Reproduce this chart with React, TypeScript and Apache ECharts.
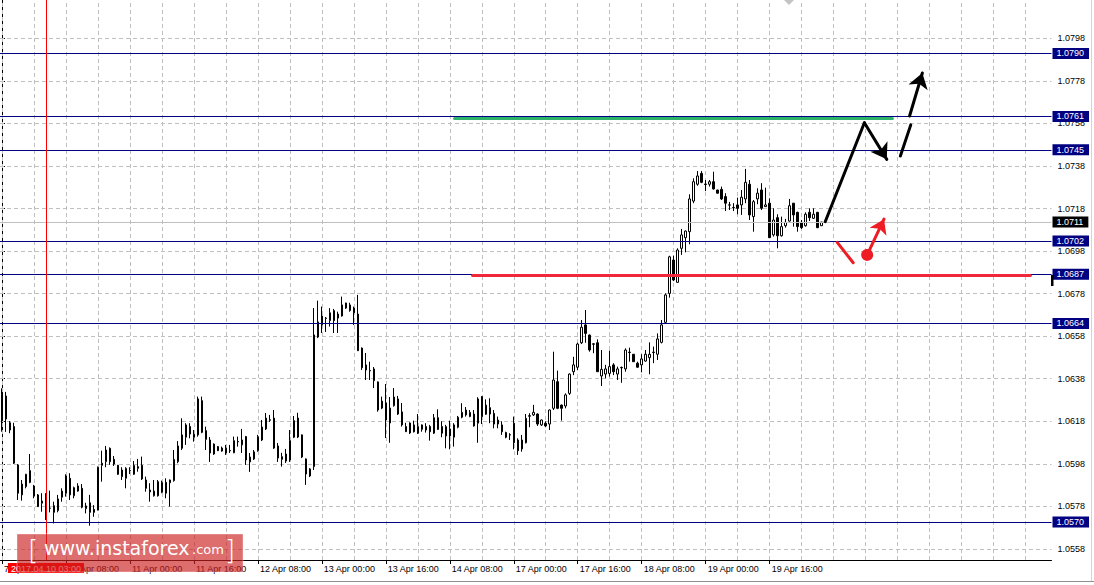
import React, { useEffect, useRef } from 'react';
import * as echarts from 'echarts';

// ---- axis layout data ----
const slotCount = 263; // hourly slots across the plot (data + future shift)
const labelStep = 16;
const gridStep = 8;
const timeLabels = [
  '7 Apr 16:00', '10 Apr 08:00', '11 Apr 00:00', '11 Apr 16:00', '12 Apr 08:00',
  '13 Apr 00:00', '13 Apr 16:00', '14 Apr 08:00', '17 Apr 00:00', '17 Apr 16:00',
  '18 Apr 08:00', '19 Apr 00:00', '19 Apr 16:00',
];
const yTicks = [
  1.0558, 1.0578, 1.0598, 1.0618, 1.0638, 1.0658, 1.0678,
  1.0698, 1.0718, 1.0738, 1.0758, 1.0778, 1.0798,
];
const yMin = 1.05528;
const yMax = 1.0816;

// ---- horizontal levels ----
const levels = [1.07909, 1.07613, 1.07456, 1.07027, 1.06871, 1.0664, 1.05707];
const lastPrice = 1.07117;
const cursorSlot = 11;
const cursorLabel = '2017.04.10 03:00';

// ---- H1 candles: [open, close, low, high] ----
const ohlc = [
  [1.06186, 1.06304, 1.06131, 1.06335], [1.06299, 1.06191, 1.0613, 1.06318], [1.06173, 1.06139, 1.06124, 1.06181],
  [1.06155, 1.05983, 1.05979, 1.06173], [1.05975, 1.05842, 1.0581, 1.05979], [1.05834, 1.05885, 1.05807, 1.05904],
  [1.05873, 1.05931, 1.05865, 1.05933], [1.05948, 1.05893, 1.05889, 1.06026], [1.05876, 1.05829, 1.05818, 1.05881],
  [1.05834, 1.05779, 1.05777, 1.05838], [1.05795, 1.05805, 1.05755, 1.05842], [1.05821, 1.0576, 1.05716, 1.05842],
  [1.05772, 1.05771, 1.05752, 1.05854], [1.05783, 1.05752, 1.057, 1.05802], [1.0576, 1.05815, 1.05752, 1.05834],
  [1.05823, 1.05852, 1.05802, 1.05865], [1.05842, 1.05923, 1.05826, 1.05931], [1.05912, 1.05834, 1.0581, 1.05936],
  [1.0583, 1.05868, 1.05818, 1.05873], [1.05876, 1.05852, 1.05849, 1.05889], [1.05865, 1.05776, 1.05771, 1.05885],
  [1.05769, 1.05782, 1.05747, 1.05797], [1.05797, 1.05752, 1.05689, 1.05834], [1.05766, 1.05752, 1.05731, 1.05786],
  [1.05763, 1.05964, 1.05761, 1.05967], [1.05973, 1.05983, 1.05896, 1.06042], [1.0599, 1.06045, 1.05964, 1.06064],
  [1.06053, 1.0599, 1.05975, 1.06057], [1.06001, 1.05979, 1.0597, 1.06017], [1.05973, 1.05931, 1.05928, 1.05975],
  [1.05951, 1.0592, 1.05904, 1.05964], [1.05912, 1.05959, 1.05865, 1.05964], [1.05949, 1.05947, 1.05932, 1.05964],
  [1.05931, 1.05973, 1.05928, 1.05993], [1.05959, 1.05967, 1.05943, 1.06003], [1.05973, 1.05909, 1.05904, 1.06014],
  [1.05904, 1.05865, 1.05849, 1.0592], [1.05857, 1.05848, 1.05802, 1.05889], [1.0583, 1.05852, 1.05826, 1.05904],
  [1.05896, 1.0583, 1.05826, 1.05904], [1.05846, 1.05893, 1.05842, 1.05901], [1.05893, 1.05842, 1.05818, 1.05912],
  [1.05904, 1.05891, 1.05779, 1.05906], [1.05901, 1.06001, 1.05896, 1.06045], [1.0599, 1.06064, 1.05983, 1.06087],
  [1.06053, 1.06116, 1.06045, 1.06194], [1.06105, 1.06163, 1.06069, 1.06171], [1.06155, 1.0612, 1.061, 1.06171],
  [1.06119, 1.06105, 1.06084, 1.06139], [1.06116, 1.06285, 1.06108, 1.06296], [1.06277, 1.06128, 1.06124, 1.06296],
  [1.06136, 1.06095, 1.06045, 1.06155], [1.06092, 1.06031, 1.05989, 1.06106], [1.06026, 1.06073, 1.06022, 1.06076],
  [1.06061, 1.06042, 1.0604, 1.06064], [1.06054, 1.0604, 1.06037, 1.06061], [1.06031, 1.06054, 1.06022, 1.06069],
  [1.06043, 1.06041, 1.06031, 1.06069], [1.06032, 1.06089, 1.0603, 1.06108], [1.06085, 1.06083, 1.06061, 1.06108],
  [1.06069, 1.06092, 1.06031, 1.06144], [1.06108, 1.05998, 1.05975, 1.06111], [1.05989, 1.06012, 1.05942, 1.06031],
  [1.06003, 1.06036, 1.05998, 1.06045], [1.06042, 1.06108, 1.06037, 1.06116], [1.06092, 1.06153, 1.06087, 1.06186],
  [1.06144, 1.06195, 1.06139, 1.06219], [1.06187, 1.06185, 1.06177, 1.0621], [1.06195, 1.06054, 1.0605, 1.06233],
  [1.06064, 1.06007, 1.05989, 1.06078], [1.06001, 1.06014, 1.05967, 1.06032], [1.06026, 1.05993, 1.05984, 1.0605],
  [1.05998, 1.06089, 1.05989, 1.06139], [1.06105, 1.06183, 1.06101, 1.06205], [1.06195, 1.06106, 1.06101, 1.0622],
  [1.06116, 1.06012, 1.06007, 1.06118], [1.06003, 1.05932, 1.05881, 1.06005], [1.05923, 1.05956, 1.05918, 1.0596],
  [1.05967, 1.06586, 1.05951, 1.06712], [1.06576, 1.06647, 1.06571, 1.06747], [1.06633, 1.06675, 1.06595, 1.06719],
  [1.06665, 1.06663, 1.066, 1.0667], [1.06653, 1.0669, 1.06625, 1.06712], [1.067, 1.06653, 1.06595, 1.06708],
  [1.06665, 1.06684, 1.06595, 1.06695], [1.06675, 1.06727, 1.06672, 1.06766], [1.06736, 1.06712, 1.06708, 1.06737],
  [1.067, 1.06727, 1.06695, 1.06737], [1.06712, 1.0669, 1.06633, 1.06719], [1.06684, 1.06512, 1.0651, 1.06774],
  [1.06524, 1.06432, 1.06421, 1.06527], [1.06445, 1.06421, 1.06374, 1.06501], [1.06419, 1.06417, 1.06374, 1.0646],
  [1.06426, 1.06371, 1.06336, 1.06435], [1.06365, 1.06233, 1.06225, 1.06367], [1.06242, 1.06275, 1.06237, 1.06296],
  [1.06266, 1.06186, 1.06101, 1.06355], [1.06172, 1.06242, 1.06079, 1.06294], [1.06253, 1.06294, 1.06249, 1.06336],
  [1.06285, 1.06214, 1.0621, 1.06299], [1.06224, 1.06163, 1.06155, 1.06266], [1.06155, 1.06131, 1.0613, 1.06173],
  [1.06125, 1.06172, 1.0612, 1.06175], [1.06163, 1.06131, 1.06127, 1.06183], [1.06124, 1.06155, 1.0612, 1.06214],
  [1.06142, 1.06163, 1.06131, 1.06165], [1.06155, 1.06139, 1.06127, 1.06171], [1.06155, 1.06131, 1.06089, 1.06163],
  [1.06124, 1.06197, 1.0612, 1.06214], [1.06197, 1.06142, 1.06139, 1.06236], [1.06155, 1.06124, 1.06105, 1.0618],
  [1.06111, 1.06155, 1.06053, 1.06163], [1.06144, 1.06111, 1.06048, 1.06183], [1.06105, 1.06163, 1.06061, 1.06171],
  [1.06152, 1.06199, 1.06147, 1.06205], [1.06199, 1.06222, 1.06194, 1.06265], [1.06233, 1.0621, 1.06202, 1.06247],
  [1.06202, 1.06222, 1.06199, 1.06233], [1.06214, 1.06158, 1.06155, 1.06233], [1.06171, 1.06285, 1.06079, 1.06293],
  [1.06296, 1.06202, 1.06167, 1.06299], [1.06213, 1.06256, 1.0621, 1.06283], [1.06244, 1.06214, 1.06171, 1.06288],
  [1.06217, 1.06167, 1.06147, 1.06233], [1.06186, 1.06167, 1.06147, 1.06202], [1.06163, 1.06131, 1.06116, 1.0618],
  [1.06127, 1.06105, 1.061, 1.06131], [1.06117, 1.06115, 1.06092, 1.06124], [1.06171, 1.06079, 1.06048, 1.06202],
  [1.06092, 1.06042, 1.06022, 1.061], [1.0605, 1.06092, 1.06037, 1.06116], [1.06079, 1.06194, 1.06076, 1.06214],
  [1.06206, 1.06204, 1.06152, 1.06218], [1.0621, 1.06222, 1.06205, 1.06257], [1.06214, 1.06167, 1.06158, 1.06217],
  [1.06163, 1.06186, 1.06158, 1.06188], [1.06171, 1.06158, 1.06152, 1.0618], [1.06167, 1.06233, 1.06139, 1.06235],
  [1.06241, 1.06374, 1.06233, 1.06507], [1.06366, 1.06241, 1.06237, 1.06418], [1.06256, 1.06241, 1.06183, 1.06259],
  [1.06252, 1.06304, 1.06241, 1.06311], [1.06311, 1.06402, 1.06304, 1.06405], [1.06413, 1.06445, 1.06397, 1.06483],
  [1.06434, 1.06543, 1.06421, 1.06549], [1.06549, 1.06622, 1.06543, 1.06656], [1.06633, 1.06593, 1.06549, 1.06703],
  [1.06585, 1.06515, 1.06507, 1.06588], [1.06544, 1.06542, 1.065, 1.06547], [1.06549, 1.06413, 1.06412, 1.06565],
  [1.06393, 1.06424, 1.06346, 1.06515], [1.06402, 1.06426, 1.06382, 1.06445], [1.06405, 1.06437, 1.0639, 1.06512],
  [1.06445, 1.06413, 1.06397, 1.06453], [1.06402, 1.06426, 1.06374, 1.06437], [1.06433, 1.06431, 1.06361, 1.06437],
  [1.06426, 1.06515, 1.06413, 1.06523], [1.06505, 1.06503, 1.0646, 1.06526], [1.06495, 1.0646, 1.06459, 1.06496],
  [1.06453, 1.06434, 1.06432, 1.0646], [1.06445, 1.06473, 1.0641, 1.06495], [1.06463, 1.06495, 1.0646, 1.06515],
  [1.06479, 1.06495, 1.06401, 1.06551], [1.06505, 1.06503, 1.06453, 1.06531], [1.06495, 1.06567, 1.06468, 1.06593],
  [1.06551, 1.06633, 1.06546, 1.06656], [1.06645, 1.06774, 1.0664, 1.06781], [1.06781, 1.06953, 1.06761, 1.06958],
  [1.06938, 1.06844, 1.06839, 1.06958], [1.06833, 1.06985, 1.06831, 1.06993], [1.06993, 1.07056, 1.06962, 1.07084],
  [1.07043, 1.07074, 1.06974, 1.07077], [1.07071, 1.07225, 1.07012, 1.07247], [1.07215, 1.07306, 1.07205, 1.07322],
  [1.07294, 1.07333, 1.07287, 1.07356], [1.07345, 1.07303, 1.07299, 1.07356], [1.07295, 1.07293, 1.07262, 1.07314],
  [1.07294, 1.07306, 1.07283, 1.07314], [1.07306, 1.07272, 1.07269, 1.07353], [1.07267, 1.07252, 1.07251, 1.07268],
  [1.0727, 1.07225, 1.0722, 1.07283], [1.07236, 1.07205, 1.07168, 1.07252], [1.07197, 1.07196, 1.07173, 1.07211],
  [1.07185, 1.07183, 1.07168, 1.07205], [1.07197, 1.07181, 1.07153, 1.07231], [1.07197, 1.07233, 1.0715, 1.07267],
  [1.07225, 1.07303, 1.07205, 1.07366], [1.07294, 1.0715, 1.07126, 1.07314], [1.07142, 1.07212, 1.07071, 1.0722],
  [1.07225, 1.07252, 1.072, 1.07275], [1.07267, 1.07181, 1.07173, 1.07299], [1.07189, 1.07197, 1.07187, 1.07278],
  [1.07205, 1.07043, 1.07041, 1.07228], [1.07056, 1.07126, 1.07048, 1.07181], [1.07137, 1.07052, 1.06993, 1.07153],
  [1.07052, 1.07095, 1.07048, 1.07142], [1.07099, 1.07115, 1.0709, 1.07131], [1.07121, 1.07193, 1.07118, 1.07225],
  [1.07205, 1.0715, 1.07095, 1.07206], [1.07162, 1.07095, 1.07071, 1.07165], [1.07115, 1.0709, 1.07084, 1.07126],
  [1.07099, 1.07153, 1.07095, 1.07162], [1.07162, 1.07137, 1.07121, 1.07181], [1.07134, 1.07153, 1.07131, 1.07181],
  [1.07162, 1.0709, 1.07088, 1.07164], [1.07099, 1.07116, 1.07098, 1.07118],
];

// ---- drawn analysis objects (slot index, price) ----
const greenZone = [[113.2, 1.07605], [222.7, 1.07605]];
const redZone = [[117.7, 1.06864], [257.2, 1.06864]];
const blackLeg1 = [[205.9, 1.07118], [215.7, 1.07583]];
const blackLeg2 = [[215.7, 1.07583], [221.3, 1.07411]];
const blackDash = [[224.7, 1.07427], [227.3, 1.07573]];
const blackUp = [[227.0, 1.07615], [230.2, 1.07817]];
const redStroke = [[208.9, 1.07021], [212.9, 1.06925]];
const redUp = [[216.4, 1.06962], [220.6, 1.0713]];

const FONT = 'Liberation Sans';
const NAVY = '#000080';
const RED = '#ee1c24';

export default function App() {
  const ref = useRef<HTMLDivElement>(null);
  useEffect(() => {
    if (!ref.current) return;
    const chart = echarts.init(ref.current, undefined, { renderer: 'svg' });
    const slots = Array.from({ length: slotCount }, (_, i) => String(i));
    const vGrid: number[] = [];
    for (let k = 0; k < slotCount; k += gridStep) vGrid.push(k);
    const trunc = (v: number) => (Math.floor(v * 1e4 + 1e-6) / 1e4).toFixed(4);
    const boxLabel = (bg: string) => ({
      show: true,
      position: 'end',
      distance: 1,
      formatter: (p: any) => trunc(p.value),
      color: '#fff',
      backgroundColor: bg,
      padding: [1, 5, 1, 4],
      fontSize: 9,
      fontFamily: FONT,
    });
    const lineSeries = (coordsList: number[][][], color: string, extra: any = {}) => ({
      type: 'lines',
      coordinateSystem: 'cartesian2d',
      xAxisIndex: 1,
      yAxisIndex: 0,
      silent: true,
      z: 6,
      lineStyle: { color, width: 3, opacity: 1, curveness: 0, cap: 'round' },
      data: coordsList.map((c) => ({ coords: c })),
      ...extra,
    });

    const option: any = {
      animation: false,
      backgroundColor: '#ffffff',
      grid: { left: -0.5, right: 42.5, top: 0, bottom: 25, containLabel: false },
      xAxis: [
        {
          type: 'category',
          data: slots,
          boundaryGap: true,
          axisLine: { show: true, lineStyle: { color: '#000', width: 1 } },
          axisTick: {
            show: true,
            alignWithLabel: true,
            length: 4,
            lineStyle: { color: '#000' },
            interval: (i: number) => i % labelStep === 0 && i / labelStep < timeLabels.length,
          },
          axisLabel: {
            show: true,
            interval: 0,
            align: 'left',
            margin: 4,
            padding: [0, 0, 0, 2],
            color: '#000',
            fontSize: 9,
            fontFamily: FONT,
            formatter: (_v: string, i: number) =>
              i % labelStep === 0 && i / labelStep < timeLabels.length ? timeLabels[i / labelStep] : '',
          },
          splitLine: { show: false },
        },
        { type: 'value', min: -0.5, max: slotCount - 0.5, show: false },
      ],
      yAxis: {
        type: 'value',
        position: 'right',
        min: yMin,
        max: yMax,
        axisLine: { show: true, lineStyle: { color: '#000', width: 1 } },
        axisTick: { show: true, length: 3, customValues: yTicks, lineStyle: { color: '#000' } },
        axisLabel: {
          customValues: yTicks,
          margin: 6,
          color: '#000',
          fontSize: 9,
          fontFamily: FONT,
          formatter: (v: number) => v.toFixed(4),
        },
        splitLine: { show: false },
      },
      series: [
        {
          type: 'line',
          data: [],
          clip: false,
          silent: true,
          markLine: {
            silent: true,
            symbol: 'none',
            precision: 6,
            z: 1,
            animation: false,
            label: { show: false },
            lineStyle: { color: '#c0c0c0', type: [4, 3], width: 1 },
            data: [
              ...yTicks.map((v) => ({ yAxis: v })),
              ...vGrid.map((k) => ({ xAxis: slots[k] })),
            ],
          },
        },
        {
          type: 'candlestick',
          data: ohlc,
          barWidth: 2,
          z: 3,
          silent: true,
          itemStyle: {
            color: '#ffffff',
            color0: '#000000',
            borderColor: '#000000',
            borderColor0: '#000000',
            borderWidth: 1,
          },
        },
        {
          type: 'line',
          data: [],
          clip: false,
          silent: true,
          markLine: {
            silent: true,
            symbol: 'none',
            precision: 6,
            z: 4,
            animation: false,
            data: [
              {
                yAxis: lastPrice,
                lineStyle: { color: '#c0c0c0', type: 'solid', width: 1 },
                label: boxLabel('#000000'),
              },
              ...levels.map((v) => ({
                yAxis: v,
                lineStyle: { color: NAVY, type: 'solid', width: 1 },
                label: boxLabel(NAVY),
              })),
              {
                xAxis: slots[cursorSlot],
                lineStyle: { color: '#ff0000', type: 'solid', width: 1 },
                label: {
                  show: true,
                  position: 'start',
                  distance: 3,
                  formatter: cursorLabel,
                  color: '#fff',
                  backgroundColor: '#ff0000',
                  padding: [1, 3, 0, 3],
                  fontSize: 9,
                  fontFamily: FONT,
                },
              },
            ],
          },
        },
        lineSeries([greenZone], '#2fb36a', { z: 5 }),
        lineSeries([redZone], '#f0283a', { z: 5 }),
        lineSeries([blackLeg1, blackDash], '#000000', { symbol: 'none' }),
        lineSeries([blackLeg2, blackUp], '#000000', { symbol: ['none', 'arrow'], symbolSize: 15 }),
        lineSeries([redStroke], RED, { symbol: 'none' }),
        lineSeries([redUp], RED, { symbol: ['circle', 'arrow'], symbolSize: [12, 14] }),
      ],
      graphic: [
        { type: 'polygon', shape: { points: [[784, 0], [794, 0], [789, 5]] }, style: { fill: '#c4c4c4' }, z: 10 },
        { type: 'rect', shape: { x: 1051, y: 275, width: 2.5, height: 11 }, style: { fill: '#000' }, z: 10 },
        { type: 'line', shape: { x1: 1091.5, y1: 0, x2: 1091.5, y2: 581 }, style: { stroke: '#d4d4d4', lineWidth: 1 }, z: 10 },
        { type: 'line', shape: { x1: 0, y1: 581.5, x2: 1094, y2: 581.5 }, style: { stroke: '#909090', lineWidth: 1 }, z: 10 },
        {
          type: 'group',
          z: 100,
          children: [
            {
              type: 'rect',
              shape: { x: 17, y: 534, width: 226, height: 38 },
              style: { fill: 'rgba(205,30,30,0.65)', stroke: 'rgba(255,255,255,0.35)', lineWidth: 1 },
              z: 100,
            },
            { type: 'text', x: 28, y: 537, style: { text: '[', fill: '#fff', font: '300 26px "DejaVu Sans"' }, z: 101 },
            { type: 'text', x: 44, y: 538, style: { text: 'www.instaforex', fill: '#fff', font: '19px "DejaVu Sans"' }, z: 101 },
            { type: 'text', x: 192, y: 543, style: { text: '.com', fill: '#fff', font: '13px "DejaVu Sans"' }, z: 101 },
            { type: 'text', x: 225, y: 537, style: { text: ']', fill: '#fff', font: '300 26px "DejaVu Sans"' }, z: 101 },
          ],
        },
      ],
    };
    chart.setOption(option);
    return () => chart.dispose();
  }, []);
  return (
    <div
      ref={ref}
      style={{ position: 'fixed', left: 0, top: 0, width: 1094, height: 585, background: '#fff' }}
    />
  );
}
